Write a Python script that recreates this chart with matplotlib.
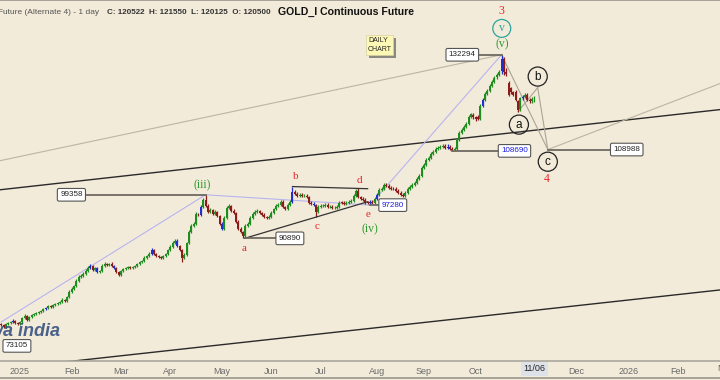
import matplotlib.pyplot as plt
from matplotlib.patches import Rectangle

# daily candles, Dec 2024 .. 06 Nov 2025 (index = trading day)
opens = [
    76300, 76150, 75850, 76280, 76460, 76600, 76780, 76440, 76310, 76620,
    77230, 77560, 76930, 77380, 77720, 77860, 78040, 78180, 78360, 78660,
    78840, 79170, 78990, 79330, 79470, 79660, 79800, 80140, 79960, 80640,
    81450, 81970, 82450, 83320, 84000, 84160, 84520, 85030, 85570, 85900,
    85220, 85570, 84850, 85050, 85900, 86280, 86080, 86280, 85900, 85570,
    84850, 84350, 85030, 85390, 85550, 85750, 85550, 85750, 85900, 86280,
    86610, 86810, 87320, 87700, 88040, 88780, 88040, 87700, 87500, 87340,
    87680, 88060, 88760, 89330, 90050, 90430, 89490, 88760, 87320, 87880,
    90050, 92110, 93240, 93640, 95560, 95380, 96940, 98360, 97140, 95970,
    96340, 95580, 95950, 95160, 93620, 92680, 94780, 96750, 97140, 96160,
    95750, 94000, 92680, 92090, 91360, 93240, 93640, 94780, 95560, 95970,
    96140, 95750, 95380, 94970, 94800, 94990, 95750, 96530, 97160, 97340,
    97960, 96940, 96550, 97340, 97960, 99980, 99570, 99150, 99370, 99150,
    99170, 98940, 97760, 97560, 97340, 95970, 96960, 97140, 97160, 97360,
    96940, 96960, 96730, 96750, 96960, 97760, 97740, 97560, 97760, 97960,
    98160, 99150, 100180, 98940, 98540, 98340, 97760, 97740, 97960, 97740,
    98560, 99350, 100390, 100570, 101420, 101200, 100780, 100590, 100570, 100180,
    99760, 99370, 99150, 99780, 100590, 101010, 101400, 101840, 102660, 103310,
    105000, 105670, 106740, 107200, 108050, 108520, 109170, 109410, 109620, 109860,
    109390, 109640, 109170, 108970, 109190, 111210, 112830, 113510, 114230, 114910,
    116600, 117000, 116400, 116500, 116050, 119250, 120710, 122210, 122950, 124230,
    125240, 126290, 126900, 127900, 131100, 127700, 124900, 123500, 122500, 122600,
    120300, 118300, 121000, 121400, 121900, 120700, 120300, 120500,
]
highs = [
    76520, 76330, 76480, 76640, 76800, 77010, 76950, 76620, 76830, 77450,
    77800, 77720, 77600, 77900, 78050, 78260, 78380, 78550, 78880, 79050,
    79380, 79350, 79520, 79690, 79860, 80020, 80380, 80320, 80850, 81700,
    82250, 82700, 83560, 84300, 84450, 84780, 85300, 85850, 86250, 86120,
    85800, 85790, 85280, 86180, 86560, 86500, 86480, 86520, 86100, 85780,
    85050, 85260, 85600, 85780, 85960, 85980, 85950, 86150, 86500, 86850,
    87030, 87580, 87920, 88300, 89050, 89020, 88260, 87930, 87720, 87920,
    88280, 89020, 89580, 90330, 90700, 90680, 89720, 88990, 88120, 90300,
    92400, 93520, 93950, 95850, 95820, 97250, 98650, 99358, 97420, 96620,
    96600, 96230, 96200, 95420, 93900, 95050, 97020, 97430, 97400, 96420,
    96000, 94300, 92950, 92350, 93520, 93900, 95060, 95830, 96230, 96420,
    96400, 96000, 95640, 95230, 95250, 96030, 96800, 97420, 97620, 98220,
    98230, 97200, 97620, 98230, 101040, 100260, 99840, 99630, 99640, 99430,
    99440, 99210, 98030, 97830, 97600, 97220, 97420, 97420, 97620, 97630,
    97220, 97230, 97010, 97220, 98020, 98030, 98010, 98020, 98220, 98420,
    99430, 100440, 100800, 99210, 98810, 98610, 98030, 98220, 98230, 98820,
    99640, 100660, 100860, 101700, 101700, 101480, 101060, 100870, 100850, 100460,
    100040, 99650, 100050, 100860, 101280, 101690, 102110, 102960, 103600, 105320,
    105970, 107060, 107500, 108380, 108830, 109500, 109720, 109950, 110180, 110180,
    110150, 109960, 109490, 109500, 111560, 113170, 113870, 114570, 115280, 116980,
    117480, 117380, 116780, 116880, 119640, 121130, 122620, 123390, 124660, 125700,
    126720, 127500, 128300, 132294, 131600, 128800, 125300, 123900, 122900, 123000,
    120700, 121400, 121800, 122300, 122300, 121100, 121300, 121550,
]
lows = [
    75950, 75640, 75670, 76100, 76280, 76420, 76260, 76110, 76120, 76430,
    77040, 76730, 76740, 77190, 77530, 77670, 77850, 77990, 78170, 78470,
    78650, 78810, 78800, 79140, 79280, 79470, 79610, 79780, 79770, 80440,
    81250, 81770, 82250, 83110, 83780, 83940, 84300, 84810, 85340, 84980,
    85000, 84630, 84620, 84830, 85670, 85860, 85850, 85680, 85330, 84630,
    84110, 84120, 84800, 85160, 85320, 85330, 85320, 85520, 85670, 86050,
    86380, 86580, 87090, 87470, 87810, 87820, 87460, 87280, 87100, 87110,
    87450, 87830, 88530, 89100, 89820, 89260, 88530, 86600, 87080, 87640,
    89800, 91860, 92990, 93390, 95110, 95120, 96680, 96890, 95700, 95710,
    95310, 95320, 94910, 93370, 92410, 92420, 94520, 96490, 95890, 95500,
    93750, 92410, 91840, 90890, 91100, 92980, 93380, 94520, 95300, 95710,
    95500, 95110, 94720, 94530, 94540, 94730, 95490, 96270, 96900, 97080,
    96690, 96280, 96290, 97080, 97700, 99290, 98890, 98880, 98890, 98880,
    98680, 97480, 97280, 97080, 94980, 95700, 96690, 96870, 96890, 96680,
    96670, 96470, 96460, 96480, 96690, 97480, 97280, 97290, 97490, 97690,
    97890, 98880, 98680, 98280, 98080, 97480, 97480, 97280, 97480, 97470,
    98290, 99080, 100120, 100300, 100940, 100520, 100310, 100310, 99900, 99500,
    99090, 98890, 98880, 99510, 100320, 100740, 101130, 101570, 102380, 103030,
    104700, 105370, 106440, 106900, 107750, 108220, 108870, 109110, 109320, 109100,
    109090, 108880, 108690, 108720, 108890, 110900, 112520, 113200, 113920, 114600,
    116280, 116080, 115580, 115680, 115730, 118920, 120380, 121880, 122620, 123900,
    124900, 125950, 126550, 127200, 127000, 126800, 121500, 122200, 121560, 120300,
    117750, 117900, 120600, 121000, 120300, 119900, 119900, 120125,
]
closes = [
    76140, 75830, 76300, 76450, 76610, 76770, 76450, 76300, 76610, 77240,
    77550, 76920, 77390, 77710, 77870, 78030, 78190, 78350, 78670, 78830,
    79160, 79000, 79320, 79480, 79650, 79810, 80130, 79970, 80630, 81460,
    81960, 82460, 83310, 83990, 84170, 84510, 85040, 85560, 85910, 85210,
    85560, 84860, 85040, 85910, 86270, 86090, 86270, 85910, 85560, 84860,
    84340, 85040, 85380, 85560, 85740, 85560, 85740, 85910, 86270, 86620,
    86800, 87330, 87690, 88050, 88770, 88050, 87690, 87510, 87330, 87690,
    88050, 88770, 89320, 90060, 90420, 89500, 88770, 87330, 87870, 90060,
    92100, 93250, 93630, 95570, 95370, 96950, 98350, 97150, 95960, 96350,
    95570, 95960, 95170, 93630, 92670, 94790, 96740, 97150, 96150, 95760,
    94010, 92670, 92100, 91350, 93250, 93630, 94790, 95570, 95960, 96150,
    95760, 95370, 94980, 94790, 94980, 95760, 96540, 97150, 97350, 97950,
    96950, 96540, 97350, 97950, 99970, 99560, 99160, 99360, 99160, 99160,
    98950, 97750, 97550, 97350, 95960, 96950, 97150, 97150, 97350, 96950,
    96950, 96740, 96740, 96950, 97750, 97750, 97550, 97750, 97950, 98150,
    99160, 100170, 98950, 98550, 98350, 97750, 97750, 97950, 97750, 98550,
    99360, 100380, 100580, 101410, 101210, 100790, 100580, 100580, 100170, 99770,
    99360, 99160, 99770, 100580, 101000, 101410, 101830, 102670, 103300, 105010,
    105660, 106750, 107190, 108060, 108510, 109180, 109400, 109630, 109850, 109400,
    109630, 109180, 108960, 109180, 111220, 112820, 113520, 114220, 114920, 116600,
    117100, 116400, 115900, 116000, 119240, 120720, 122200, 122960, 124220, 125250,
    126280, 127050, 127840, 131200, 127600, 127200, 121900, 122600, 121960, 120700,
    118200, 121000, 121400, 121900, 120700, 120300, 120900, 120522,
]
signal_bars = [5, 19, 38, 41, 48, 64, 75, 85, 94, 124, 133, 157, 160, 190, 205, 213, 222]

month_idx = [8, 30, 51, 72, 94, 115, 136, 160, 180, 202, 225, 245, 267, 288, 308]
month_lbl = ["2025", "Feb", "Mar", "Apr", "May", "Jun", "Jul", "Aug", "Sep",
             "Oct", "Nov", "Dec", "2026", "Feb", "Mar"]

# wave pivots (bar index, price)
start_low = (0, 76600)
w3_top = (87, 99358)
tri_a = (103.6, 90890)
tri_b = (124, 101040)
tri_d = (156, 100600)
tri_e = (156, 97950)
w4_low = (157, 97280)
w108690 = (192, 108690)
w5_top = (213, 132294)
proj_a = (220, 117750)
proj_b = (228.4, 123700)
proj_c = (232.7, 108988)
old_low = (6.7, 72950)

# channel lines and guides
chan_up = [(-0.5, 100380), (306, 118265)]
chan_dn = [(-0.5, 69570), (306, 81790)]
guide_top = [(-0.5, 106530), (213, 132294)]
guide_c = [(232.7, 108988), (306, 124730)]

BG = "#f3ebd9"
UP = "#1f8c1f"
DN = "#8c1c1c"
SIG = "#2030d0"

fig = plt.figure(figsize=(7.2, 3.8), dpi=100, facecolor=BG)
ax = fig.add_axes([0, 19 / 380, 1, 361 / 380])
ax.set_facecolor(BG)
ax.set_yscale("log")
ax.set_xlim(-0.5, 306)
ax.set_ylim(70730, 147970)

# candles
idx = list(range(len(closes)))
cols = []
for i in idx:
    if i in signal_bars:
        cols.append(SIG)
    elif closes[i] >= opens[i]:
        cols.append(UP)
    else:
        cols.append(DN)
ax.vlines(idx, lows, highs, colors=cols, lw=0.9, zorder=3)
bottoms = [min(o, c) for o, c in zip(opens, closes)]
heights = [max(abs(c - o), 60) for o, c in zip(opens, closes)]
ax.bar(idx, heights, bottom=bottoms, width=0.85, color=cols, lw=0, zorder=3)


def seg(p, q, **kw):
    ax.plot([p[0], q[0]], [p[1], q[1]], **kw)


# channels and guides
seg(*chan_up, color="#2a2a2a", lw=1.0, zorder=2)
seg(*chan_dn, color="#2a2a2a", lw=1.0, zorder=2)
seg(*guide_top, color="#bcb4a4", lw=0.8, zorder=2)
seg(*guide_c, color="#bcb4a4", lw=0.8, zorder=2)

# impulse waves (lavender)
LAV = "#b8b4f0"
seg(start_low, w3_top, color=LAV, lw=0.8, zorder=2)
seg(w3_top, w4_low, color=LAV, lw=0.8, zorder=2)
seg(w4_low, w5_top, color=LAV, lw=0.8, zorder=2)

# triangle
seg(tri_b, tri_d, color="#333333", lw=0.9, zorder=4)
seg(tri_a, tri_e, color="#333333", lw=0.9, zorder=4)

# projected abc
seg(w5_top, proj_c, color="#aaa397", lw=0.8, zorder=2)
seg(proj_a, proj_b, color="#aaa397", lw=0.8, zorder=2)
seg(proj_b, proj_c, color="#aaa397", lw=0.8, zorder=2)


def price_box(pt, bx, text, color="#222222"):
    ax.plot([pt[0], bx], [pt[1], pt[1]], color="#6e6a62", lw=1.3, zorder=5)
    ax.text(bx, pt[1], text, ha="center", va="center", fontsize=5.8,
            family="Liberation Sans", color=color, zorder=6,
            bbox=dict(boxstyle="round,pad=0.35,rounding_size=0.2",
                      fc="white", ec="#555555", lw=0.8))


price_box(old_low, old_low[0], "73105")
price_box(w3_top, 29.9, "99358")
price_box(tri_a, 122.9, "90890")
price_box(w4_low, 166.7, "97280", color="#1a1ae0")
price_box(w108690, 218.5, "108690", color="#1a1ae0")
price_box(w5_top, 196.3, "132294")
price_box(proj_c, 266.3, "108988")

RED = "#e8262a"
GRN = "#2f9a2f"
serif = "Liberation Serif"
ax.text(213.1, 144570, "3", color=RED, fontsize=8.5, family=serif, ha="center", va="center")
ax.text(213.1, 139620, "v", color="#2aa59c", fontsize=8.5, family=serif, ha="center", va="center",
        bbox=dict(boxstyle="circle,pad=0.25", fc="none", ec="#2aa59c", lw=0.9))
ax.text(213.1, 135120, "(v)", color=GRN, fontsize=8.5, family=serif, ha="center", va="center")
for x, y, t in [(228.4, 126530, "b"), (220.4, 114690, "a"), (232.7, 106310, "c")]:
    ax.text(x, y, t, color="#111111", fontsize=8.5, family="Liberation Sans", ha="center",
            va="center", zorder=6,
            bbox=dict(boxstyle="circle,pad=0.3", fc="none", ec="#222222", lw=0.9))
ax.text(232.3, 102670, "4", color=RED, fontsize=8.5, family=serif, ha="center", va="center")
for x, y, t in [(125.5, 103090, "b"), (103.3, 88950, "a"), (134.4, 93050, "c"),
                (152.3, 102250, "d"), (156.1, 95370, "e")]:
    ax.text(x, y, t, color=RED, fontsize=8, family=serif, ha="center", va="center")
ax.text(85.5, 101210, "(iii)", color=GRN, fontsize=8.5, family=serif, ha="center", va="center")
ax.text(157, 92670, "(iv)", color=GRN, fontsize=8.5, family=serif, ha="center", va="center")

# axes
ax.set_yticks([])
ax.yaxis.set_minor_locator(plt.NullLocator())
ax.set_xticks(month_idx[:-1])
ax.set_xticklabels(month_lbl[:-1], fontsize=6.5, color="#6a6a6a", family="Liberation Sans")
ax.tick_params(axis="x", length=0, pad=4)
ax.text(month_idx[-1], -0.022, month_lbl[-1], transform=ax.get_xaxis_transform(),
        ha="center", va="center", fontsize=6.5, color="#6a6a6a", family="Liberation Sans",
        clip_on=False)
ax.text(227, -0.022, "11/06", transform=ax.get_xaxis_transform(), ha="center", va="center",
        fontsize=6.5, color="#222222", family="Liberation Sans", clip_on=False, zorder=10,
        bbox=dict(boxstyle="square,pad=0.3", fc="#dde2e8", ec="none"))
for s in ["left", "right"]:
    ax.spines[s].set_visible(False)
ax.spines["top"].set_color("#9a968e")
ax.spines["bottom"].set_color("#aaa69e")
ax.spines["top"].set_linewidth(1.2)
ax.spines["bottom"].set_linewidth(1.2)
fig.add_artist(plt.Line2D([0, 1], [2 / 380, 2 / 380], color="#9a968e", lw=1.2))

# header
fig.text(99 / 720, 1 - 12 / 380, "Continuous Future (Alternate 4) - 1 day", ha="right",
         va="center", fontsize=6, color="#555555", family="Liberation Sans")
fig.text(107 / 720, 1 - 12 / 380, "C: 120522  H: 121550  L: 120125  O: 120500", ha="left",
         va="center", fontsize=5.8, color="#333333", family="Liberation Sans", weight="bold")
fig.text(278 / 720, 1 - 12 / 380, "GOLD_I Continuous Future", ha="left", va="center",
         fontsize=7.6, color="#111111", family="Liberation Sans", weight="bold")

# daily chart note
fig.add_artist(Rectangle((369 / 720, 1 - 58 / 380), 27 / 720, 20 / 380, fc="#8a8880", ec="none"))
fig.add_artist(Rectangle((366 / 720, 1 - 55 / 380), 27 / 720, 20 / 380, fc="#fdf8b6",
                         ec="#d8d2a0", lw=0.5))
fig.text(368 / 720, 1 - 45 / 380, "DAILY\nCHART", ha="left", va="center", fontsize=5,
         color="#222222", family="Liberation Sans", linespacing=1.25)

# watermark
fig.text(60 / 720, 1 - 332 / 380, "wa india", ha="right", va="center", fontsize=13,
         style="italic", weight="bold", color="#2c4a7c", alpha=0.85, family="Liberation Sans")

plt.savefig("out.png", dpi=100, facecolor=BG)
